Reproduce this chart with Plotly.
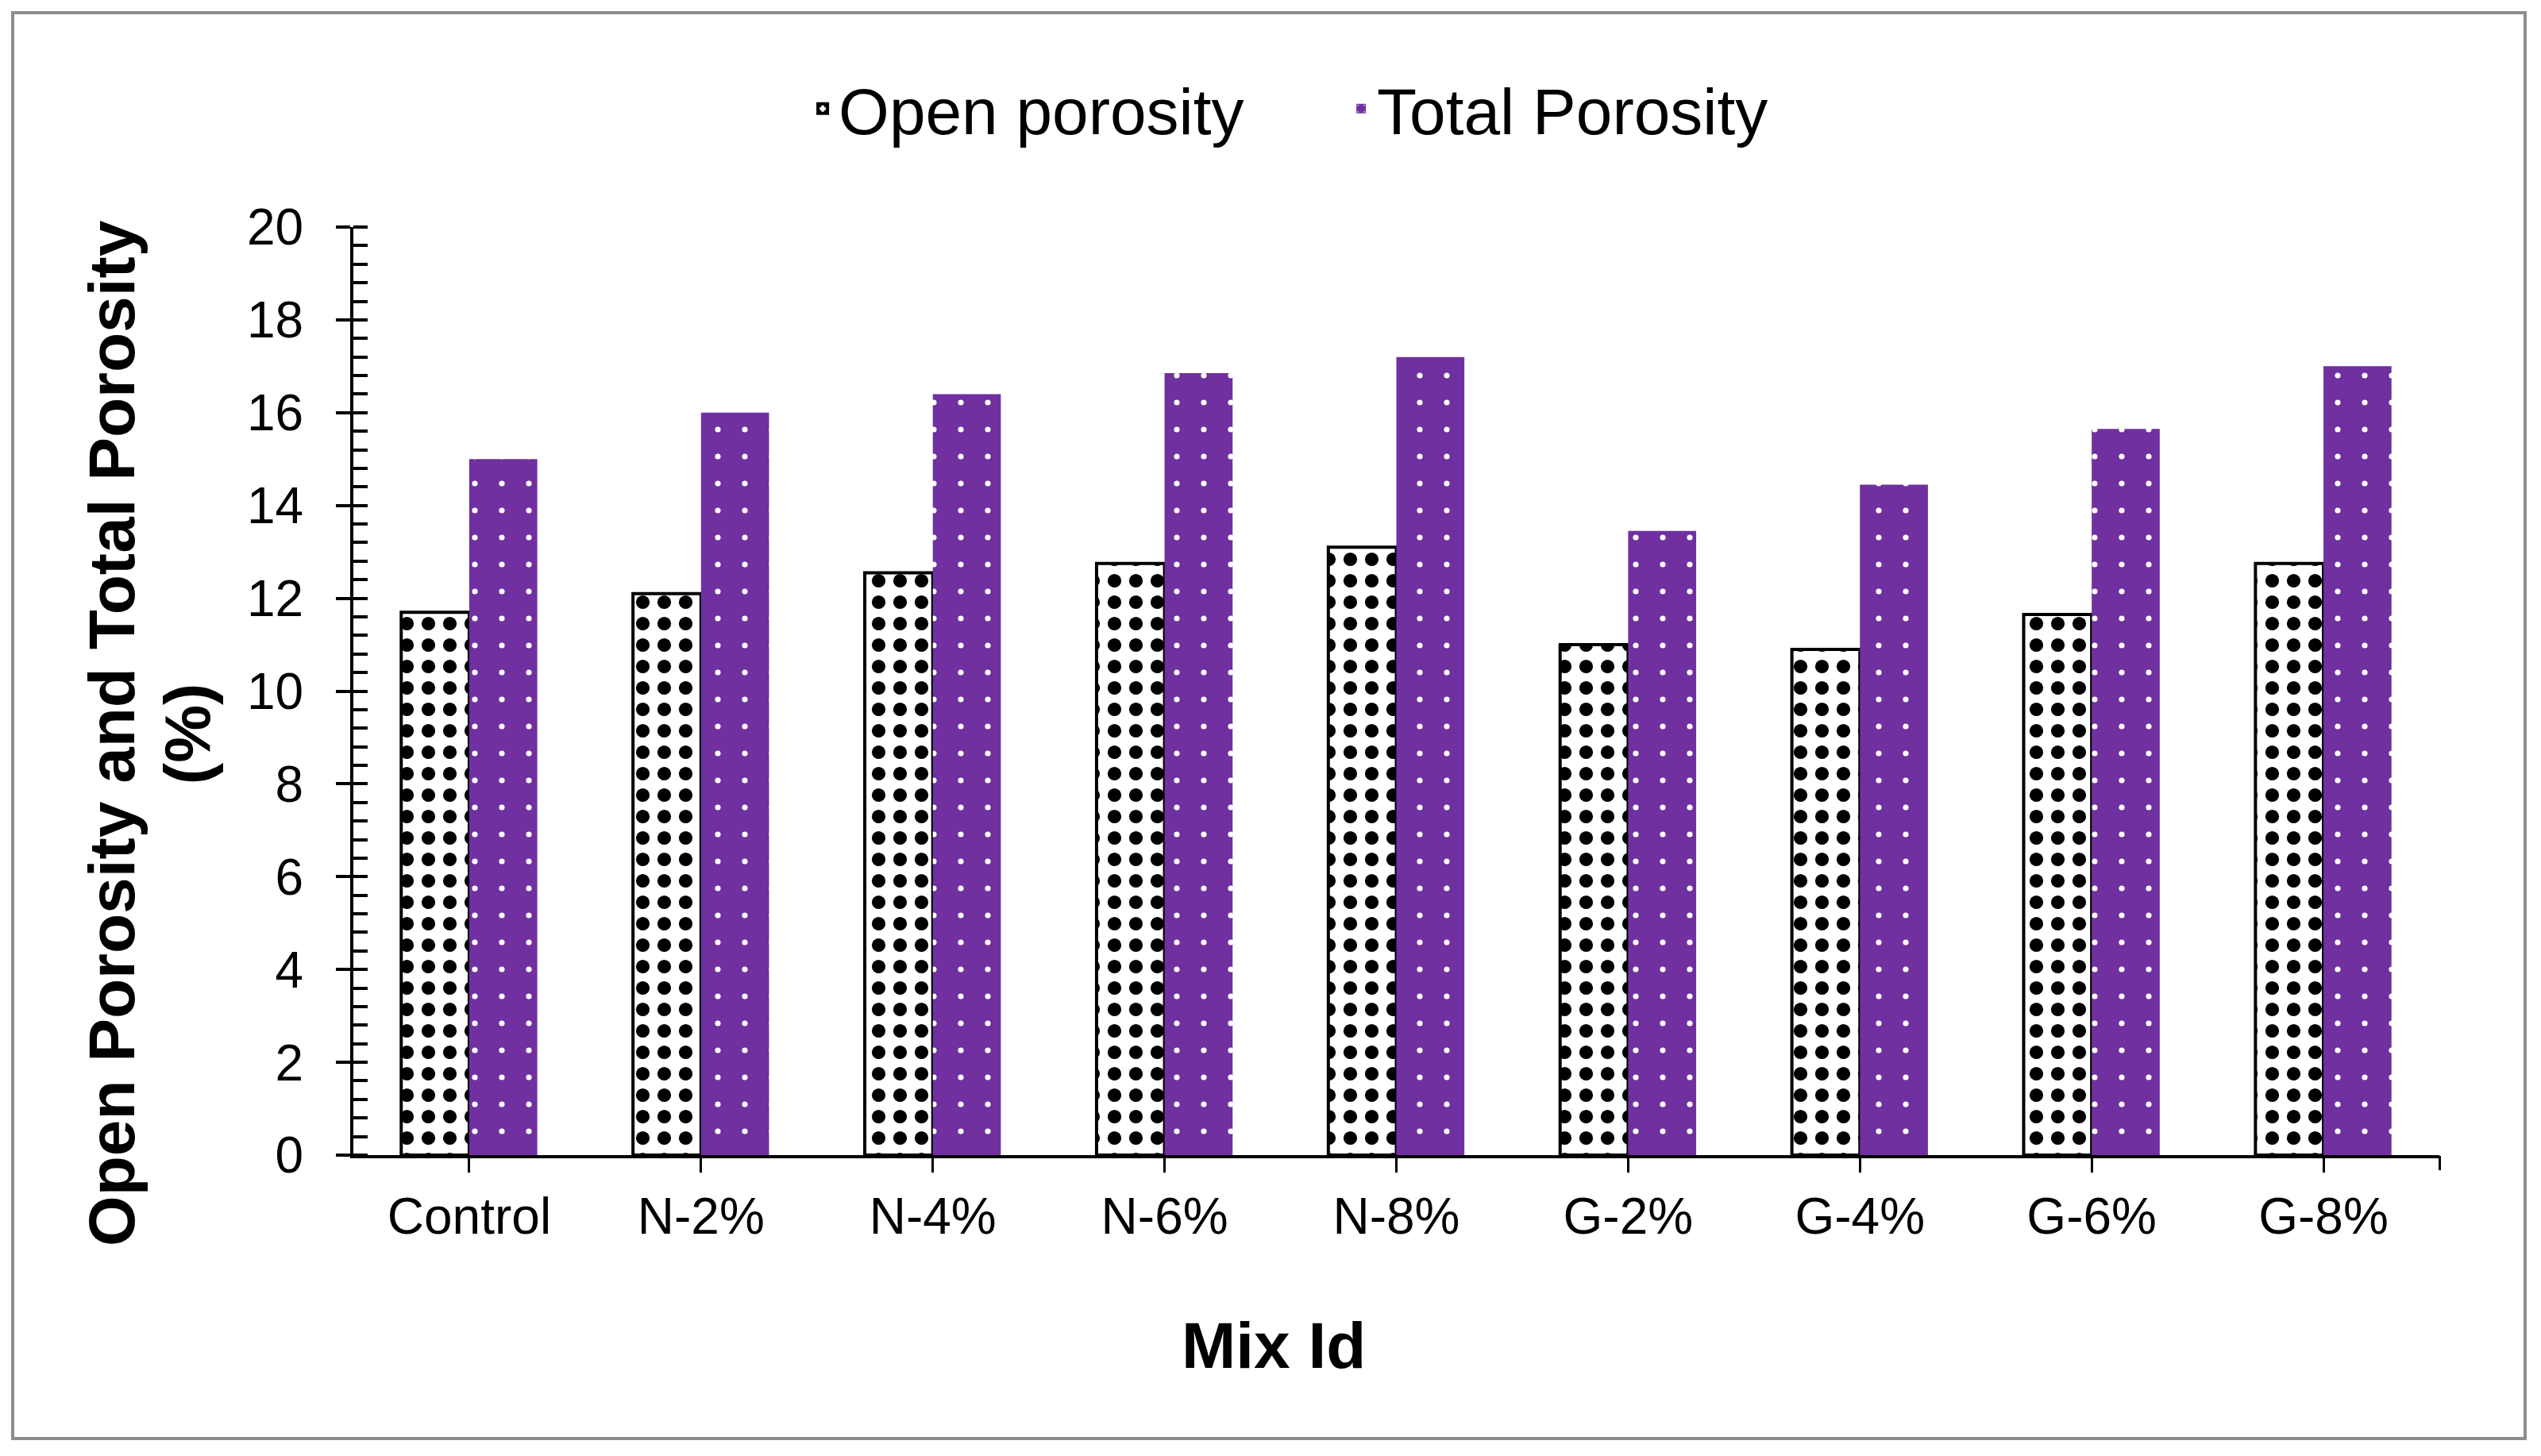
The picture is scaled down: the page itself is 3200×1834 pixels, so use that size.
import plotly.graph_objects as go

categories = ["Control", "N-2%", "N-4%", "N-6%", "N-8%", "G-2%", "G-4%", "G-6%", "G-8%"]
open_porosity = [11.7, 12.1, 12.55, 12.75, 13.1, 11.0, 10.9, 11.65, 12.75]
total_porosity = [15.0, 16.0, 16.4, 16.85, 17.2, 13.45, 14.45, 15.65, 17.0]
y_ticks = [0, 2, 4, 6, 8, 10, 12, 14, 16, 18, 20]

FONT = "Liberation Sans, Arial, sans-serif"
PURPLE = "#7030A0"

fig = go.Figure()
fig.add_trace(go.Bar(
    name="Open porosity", x=categories, y=open_porosity,
    marker=dict(color="white", line=dict(color="black", width=4),
                pattern=dict(shape=".", fgcolor="black", bgcolor="white",
                             size=27, solidity=0.32, fillmode="replace")),
))
fig.add_trace(go.Bar(
    name="Total Porosity", x=categories, y=total_porosity,
    marker=dict(color=PURPLE, line=dict(width=0),
                pattern=dict(shape=".", fgcolor="white", bgcolor=PURPLE,
                             size=34, solidity=0.035, fillmode="replace")),
))
# helper trace to activate overlay axes (inside major ticks / end tick)
fig.add_trace(go.Scatter(x=[None], y=[None], xaxis="x2", yaxis="y2",
                         showlegend=False, hoverinfo="skip", mode="markers"))

# page body has an 8px margin, so the plot is shifted by -8px to compensate
fig.update_layout(
    width=3200, height=1834,
    margin=dict(l=437, r=136, t=278, b=387),
    paper_bgcolor="white", plot_bgcolor="white",
    font=dict(family=FONT, color="black", size=64),
    barmode="group", bargap=0.413, bargroupgap=0,
    showlegend=True,
    legend=dict(orientation="h", x=0.2174, y=1.1275, xanchor="left", yanchor="middle",
                font=dict(size=82, family=FONT, color="black"),
                itemwidth=30, entrywidth=633, tracegroupgap=0, bgcolor="rgba(0,0,0,0)"),
    xaxis=dict(
        type="category", range=[-0.5, 8.5],
        showline=True, linecolor="black", linewidth=4,
        ticks="outside", ticklen=18, tickwidth=3, tickcolor="black",
        tickfont=dict(size=64, family=FONT, color="black"),
        ticklabelstandoff=0,
        showgrid=False, zeroline=False,
    ),
    yaxis=dict(
        range=[0, 20], tickvals=y_ticks,
        showline=True, linecolor="black", linewidth=4,
        ticks="outside", ticklen=18, tickwidth=4, tickcolor="black",
        minor=dict(dtick=0.4, ticks="inside", ticklen=18, tickwidth=4, tickcolor="black", showgrid=False),
        tickfont=dict(size=64, family=FONT, color="black"),
        ticklabelstandoff=28,
        showgrid=False, zeroline=False,
    ),
    xaxis2=dict(
        overlaying="x", anchor="y2", range=[-0.5, 8.5], tickvals=[8.5],
        ticks="outside", ticklen=18, tickwidth=3, tickcolor="black",
        showticklabels=False, showline=False, showgrid=False, zeroline=False, side="bottom",
    ),
    yaxis2=dict(
        overlaying="y", anchor="x2", range=[0, 20], tickvals=y_ticks, side="left",
        ticks="inside", ticklen=18, tickwidth=4, tickcolor="black",
        showticklabels=False, showline=False, showgrid=False, zeroline=False,
    ),
    annotations=[
        dict(text="<b>Open Porosity and Total Porosity</b>", textangle=-90,
             xref="paper", yref="paper", x=-0.1161, y=0.4542,
             xanchor="center", yanchor="middle", showarrow=False,
             font=dict(size=82, family=FONT, color="black")),
        dict(text="<b>(%)</b>", textangle=-90,
             xref="paper", yref="paper", x=-0.0799, y=0.4542,
             xanchor="center", yanchor="middle", showarrow=False,
             font=dict(size=82, family=FONT, color="black")),
        dict(text="<b>Mix Id</b>", xref="paper", yref="paper", x=0.441, y=-0.2045,
             xanchor="center", yanchor="middle", showarrow=False,
             font=dict(size=82, family=FONT, color="black")),
    ],
    shapes=[
        dict(type="rect", xref="paper", yref="paper",
             x0=-0.1633, x1=1.0411, y0=-0.3054, y1=1.231,
             line=dict(color="#8c8c8c", width=4), fillcolor="rgba(0,0,0,0)", layer="below"),
    ],
)

fig.write_html("out.html")
